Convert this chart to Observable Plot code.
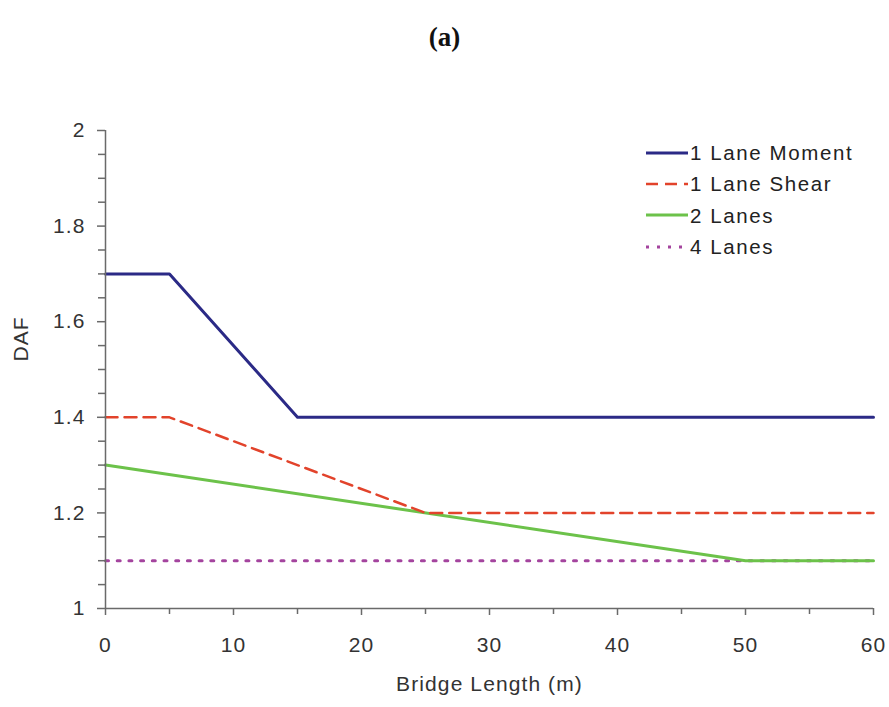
<!DOCTYPE html>
<html>
<head>
<meta charset="utf-8">
<script src="https://cdn.jsdelivr.net/npm/d3@7"></script>
<script src="https://cdn.jsdelivr.net/npm/@observablehq/plot@0.6"></script>
<style>
  body { margin: 0; background: #fff; }
  #wrap { position: relative; width: 889px; height: 707px; font-family: "Liberation Sans", Arial, sans-serif; }
  #title { position: absolute; left: 0; width: 889px; top: 22px; text-align: center; font-family: "Liberation Serif", "DejaVu Serif", serif; font-weight: bold; font-size: 27px; color: #111; }
  #legend { position: absolute; left: 644px; top: 137px; font-size: 20.5px; color: #222; line-height: 31.3px; letter-spacing: 1.6px; }
  #legend div { display: flex; align-items: center; }
  #legend svg { margin-right: 0px; }
  svg text { letter-spacing: 1.1px; }
</style>
</head>
<body>
<div id="wrap">
  <div id="title">(a)</div>
  <div id="plot"></div>
  <div id="legend"></div>
</div>
<script>
const seriesNames = ["1 Lane Moment", "1 Lane Shear", "2 Lanes", "4 Lanes"];
const colors = ["#2b2a86", "#e2432b", "#6cc24a", "#a4449e"];
const dashes = [null, "12,7", null, "3,8.7"];
const widths = [3, 2.5, 3, 3];

const momentX = [0, 5, 15, 60];
const momentY = [1.7, 1.7, 1.4, 1.4];
const shearX = [0, 5, 25, 60];
const shearY = [1.4, 1.4, 1.2, 1.2];
const lanes2X = [0, 50, 60];
const lanes2Y = [1.3, 1.1, 1.1];
const lanes4X = [0, 60];
const lanes4Y = [1.1, 1.1];

const xMajor = [0, 10, 20, 30, 40, 50, 60];
const xMinor = [5, 15, 25, 35, 45, 55];
const yMajor = [1, 1.2, 1.4, 1.6, 1.8, 2];
const yMinor = [1.05, 1.1, 1.15, 1.25, 1.3, 1.35, 1.45, 1.5, 1.55, 1.65, 1.7, 1.75, 1.85, 1.9, 1.95];

const series = [
  [momentX, momentY], [shearX, shearY], [lanes2X, lanes2Y], [lanes4X, lanes4Y]
].map(([xs, ys], i) => xs.map((x, j) => ({x, y: ys[j], s: seriesNames[i]})));

const axisColor = "#6a6a6a";
const textColor = "#333";

const lineMarks = series.map((data, i) => Plot.line(data, {
  x: "x", y: "y", stroke: colors[i], strokeWidth: widths[i],
  strokeDasharray: dashes[i] ?? undefined
}));

const chart = Plot.plot({
  width: 889,
  height: 707,
  marginTop: 130,
  marginBottom: 99,
  marginLeft: 105,
  marginRight: 16,
  style: { fontFamily: "'Liberation Sans', Arial, sans-serif", fontSize: "21px", color: textColor, background: "white", overflow: "visible" },
  x: { domain: [0, 60] },
  y: { domain: [1, 2] },
  marks: [
    ...lineMarks.slice().reverse(),
    Plot.ruleX([0], { stroke: axisColor, strokeWidth: 1.5 }),
    Plot.ruleY([1], { stroke: axisColor, strokeWidth: 1.5 }),
    Plot.axisX({ ticks: xMajor, tickSize: 7, tickPadding: 22, stroke: axisColor, strokeWidth: 1.5, fill: textColor, fontSize: 21, label: null, tickFormat: d => d }),
    Plot.axisX({ ticks: xMinor, tickSize: 6, stroke: axisColor, strokeWidth: 1.5, tickFormat: () => "", label: null }),
    Plot.axisY({ ticks: yMajor, tickSize: 8, tickPadding: 12, stroke: axisColor, strokeWidth: 1.5, fill: textColor, fontSize: 21, label: null, tickFormat: d => d }),
    Plot.axisY({ ticks: yMinor, tickSize: 7, stroke: axisColor, strokeWidth: 1.5, tickFormat: () => "", label: null }),
    Plot.text(["Bridge Length (m)"], { frameAnchor: "bottom", dy: 82, fill: textColor, fontSize: 21 }),
    Plot.text(["DAF"], { frameAnchor: "left", dx: -84, dy: -8, rotate: -90, fill: textColor, fontSize: 21 })
  ]
});
document.getElementById("plot").appendChild(chart);

const legend = document.getElementById("legend");
seriesNames.forEach((name, i) => {
  const row = document.createElement("div");
  row.innerHTML = `<svg width="46" height="10"><line x1="2" y1="5" x2="44" y2="5" stroke="${colors[i]}" stroke-width="${i === 1 ? 2.5 : 3}" ${dashes[i] ? `stroke-dasharray="${i === 1 ? '12,7' : '3,8'}"` : ""}/></svg><span>${name}</span>`;
  legend.appendChild(row);
});
</script>
</body>
</html>
